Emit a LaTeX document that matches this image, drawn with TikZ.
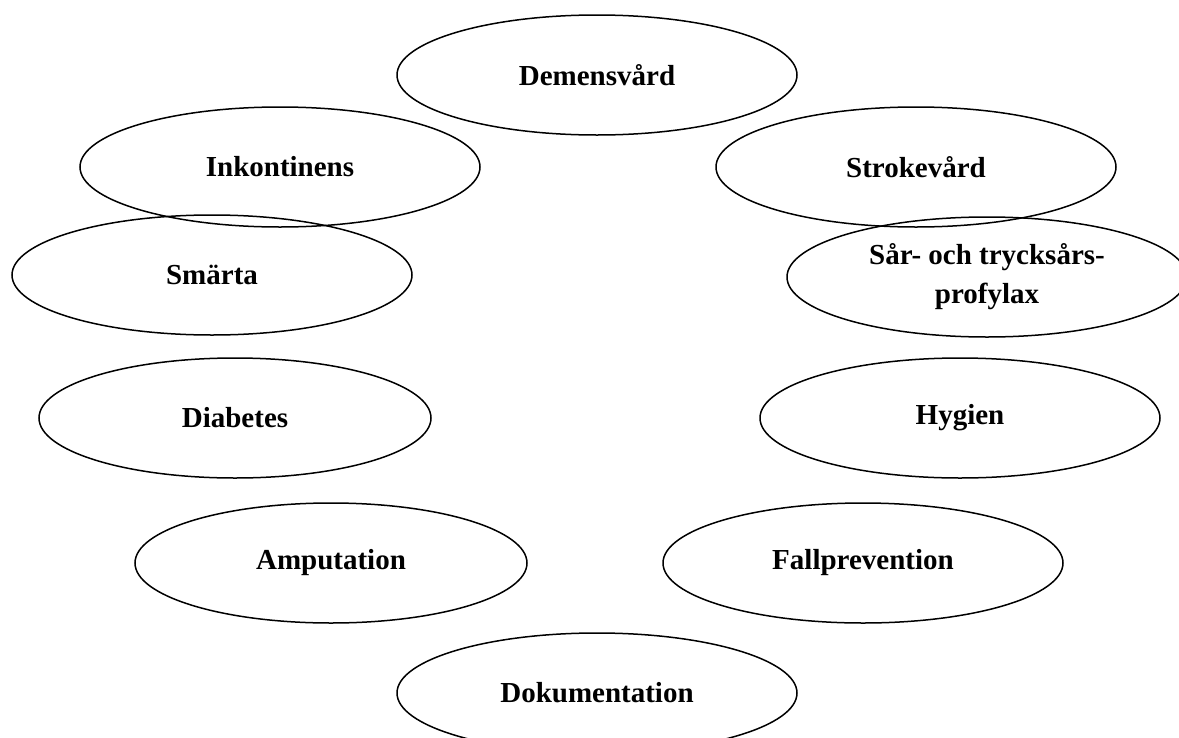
\documentclass[tikz,border=0pt]{standalone}
\usepackage{fontspec}
\setmainfont{Liberation Serif}
\usetikzlibrary{shapes.geometric}
\begin{document}
\begin{tikzpicture}[x=1pt,y=-1pt,
  topic/.style={ellipse,draw,line width=1.5pt,minimum width=400pt,minimum height=120pt,inner sep=0pt,
    font=\fontsize{29}{39}\selectfont\bfseries,align=center}]
\useasboundingbox (0,0) rectangle (1179,737);
\clip (0,0) rectangle (1179,737);
\node[topic] (dem) at (597,75) {Demensvård};
\node[topic] (ink) at (280,167) {Inkontinens};
\node[topic] (str) at (916,167) {Strokevård};
\node[topic] (sma) at (212,275) {Smärta};
\node[topic] (sar) at (987,277) {Sår- och trycksårs-\\profylax};
\node[topic,minimum width=392pt] (dia) at (235,418) {Diabetes};
\node[topic] (hyg) at (960,418) {Hygien};
\node[topic,minimum width=392pt] (amp) at (331,563) {Amputation};
\node[topic] (fal) at (863,563) {Fallprevention};
\node[topic] (dok) at (597,693) {Dokumentation};
\end{tikzpicture}
\end{document}
